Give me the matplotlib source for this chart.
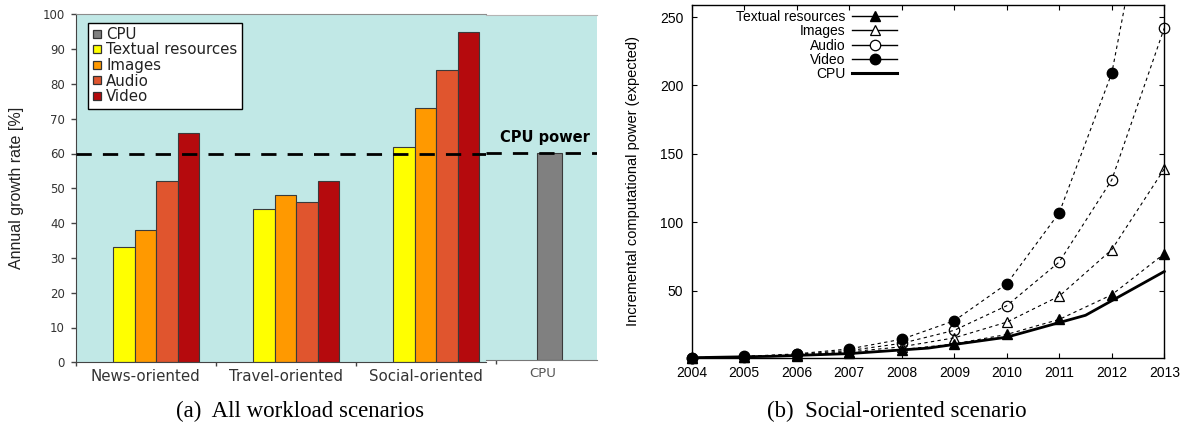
import matplotlib
matplotlib.use('Agg')
import matplotlib.pyplot as plt
import numpy as np
from matplotlib.lines import Line2D

# ---------------- data: (a) annual growth rate ----------------
scenarios = ['News-oriented', 'Travel-oriented', 'Social-oriented']
series_names = ['Textual resources', 'Images', 'Audio', 'Video']
textual_rate = [33, 44, 62]
images_rate = [38, 48, 73]
audio_rate = [52, 46, 84]
video_rate = [66, 52, 95]
cpu_rate = [60]
cpu_label = ['CPU']
cpu_line_value = 60
yticks_a = list(range(0, 101, 10))

# ---------------- data: (b) social-oriented scenario ----------------
years = [2004, 2005, 2006, 2007, 2008, 2009, 2010, 2011, 2012, 2013]
textual_pow = [1, 1.6, 2.6, 4.3, 6.9, 11.1, 18, 29, 47, 77]
images_pow = [1, 1.7, 3.0, 5.2, 9.0, 15.5, 27, 46, 80, 139]
audio_pow = [1, 1.8, 3.4, 6.2, 11.5, 21, 39, 71, 131, 242]
video_pow = [1, 1.9, 3.8, 7.4, 14.5, 28, 55, 107, 209, 408]
cpu_years = [2004, 2005.5, 2007, 2008.5, 2010, 2011.5, 2013]
cpu_pow = [1, 2, 4, 8, 16, 32, 64]
yticks_b = [50, 100, 150, 200, 250]

# ---------------- style ----------------
teal = '#c1e8e6'
bar_colors = ['#ffff00', '#ff9900', '#e0552e', '#b50a0d']
cpu_color = '#808080'
edge = '#3a3a3a'
W, H = 1189, 428

fig = plt.figure(figsize=(W / 100, H / 100), dpi=100)


def fax(l, t, r, b):
    return fig.add_axes([l / W, 1 - b / H, (r - l) / W, (b - t) / H])


axA = fax(75.5, 14.3, 485.6, 362.3)
axC = fax(485.6, 15.0, 596.7, 360.0)
axB = fax(691.7, 4.7, 1164.3, 357.7)

# ---------------- (a) main panel ----------------
group_w_px = 140.1
axA.set_facecolor(teal)
axA.set_xlim(0, (485.6 - 75.5) / group_w_px)
axA.set_ylim(0, 100)
gx = np.arange(len(scenarios))
bw = 0.1538
start = 0.268
rates = [textual_rate, images_rate, audio_rate, video_rate]
for i, (vals, col) in enumerate(zip(rates, bar_colors)):
    axA.bar(gx + start + i * bw, vals, bw, align='edge', color=col,
            edgecolor=edge, linewidth=0.8, zorder=2)
axA.axhline(cpu_line_value, color='k', lw=2, ls=(0, (5.5, 4)), zorder=3)

axA.set_xticks(list(gx))
axA.set_xticklabels([''] * len(gx))
axA.set_xticks(list(gx + 0.5), minor=True)
axA.set_xticklabels(scenarios, minor=True)
axA.tick_params(axis='x', which='major', length=3, width=1, color='#444', direction='out')
axA.tick_params(axis='x', which='minor', length=0, pad=5, labelsize=10.8, labelcolor='#333')
axA.set_yticks(yticks_a)
axA.tick_params(axis='y', length=3.6, width=1, pad=4, labelsize=8.5, labelcolor='#333', color='#444')
for lab in axA.get_xticklabels(minor=True) + axA.get_yticklabels():
    lab.set_fontfamily('DejaVu Sans')
axA.spines['right'].set_visible(False)
axA.spines['top'].set_color('#8c8c8c')
axA.spines['left'].set_color('#444')
axA.spines['bottom'].set_color('#444')
axA.set_ylabel('Annual growth rate [%]', fontsize=11.5, family='Liberation Sans', color='#222')
axA.yaxis.set_label_coords((24.5 - 75.5) / 410.1, 0.5)

handles = [Line2D([], [], ls='none', marker='s', ms=5.5, mfc=c, mec='#333', mew=0.9)
           for c in [cpu_color] + bar_colors]
leg = axA.legend(handles, cpu_label + series_names, loc='upper left',
                 bbox_to_anchor=((88.3 - 75.5) / 410.1, (362.3 - 22.7) / 348.0),
                 borderaxespad=0, frameon=True, fancybox=False,
                 framealpha=1, edgecolor='k', handlelength=0.6, handletextpad=0.32,
                 borderpad=0.28, labelspacing=0.04,
                 prop={'family': 'DejaVu Sans', 'size': 10.8})
leg.get_frame().set_linewidth(1.0)
for t in leg.get_texts():
    t.set_color('#222')

# ---------------- (a) CPU panel ----------------
cpu_group = 3
axC.set_facecolor(teal)
axC.set_xlim(2.927, 3.720)
axC.set_ylim(0, 100)
axC.bar([cpu_group + 0.383], cpu_rate, 0.174, color=cpu_color, edgecolor=edge,
        linewidth=0.8, zorder=2)
axC.axhline(cpu_line_value, color='k', lw=2, ls=(0, (5.5, 4)), zorder=3)
axC.set_xticks([cpu_group])
axC.set_xticklabels([''])
axC.set_xticks([cpu_group + 0.337], minor=True)
axC.set_xticklabels(cpu_label, minor=True)
axC.tick_params(axis='x', which='major', length=3, width=1, color='#444', direction='out')
axC.tick_params(axis='x', which='minor', length=0, pad=5, labelsize=9.5, labelcolor='#555')
axC.set_yticks([])
axC.spines['left'].set_visible(False)
axC.spines['right'].set_visible(False)
axC.spines['top'].set_color('#b4b4b4')
axC.spines['bottom'].set_color('#777')
axC.text(0.533, 64.5, 'CPU power', transform=axC.get_yaxis_transform(),
         ha='center', va='center', fontsize=10.5, fontweight='bold', family='DejaVu Sans')

# ---------------- (b) line chart ----------------
fam_b = 'Liberation Sans'
dash = (0, (3, 3))
axB.plot(years, textual_pow, color='k', lw=0.8, ls=dash, marker='^', ms=7,
         mfc='k', mec='k', clip_on=False, zorder=3)
axB.plot(years, images_pow, color='k', lw=0.8, ls=dash, marker='^', ms=7,
         mfc='none', mec='k', mew=0.9, clip_on=False, zorder=3)
axB.plot(years, audio_pow, color='k', lw=0.8, ls=dash, marker='o', ms=7.5,
         mfc='none', mec='k', mew=0.9, clip_on=False, zorder=3)
axB.plot(years, video_pow, color='k', lw=0.8, ls=dash, zorder=3)
ylim_b = (1, 259)
vy = np.array(years)
vv = np.array(video_pow)
vis = vv <= ylim_b[1]
axB.plot(vy[vis], vv[vis], ls='none', marker='o', ms=7.5, mfc='k', mec='k',
         clip_on=False, zorder=3)
axB.plot(cpu_years, cpu_pow, color='k', lw=2, zorder=4, clip_on=False)
axB.set_xlim(2004, 2013)
axB.set_ylim(*ylim_b)
axB.set_xticks(years)
axB.set_yticks(yticks_b)
axB.tick_params(direction='in', top=True, right=True, length=3.5, width=0.8,
                labelsize=10, pad=6)
for lab in axB.get_xticklabels() + axB.get_yticklabels():
    lab.set_fontfamily(fam_b)
for s in axB.spines.values():
    s.set_linewidth(1.0)
axB.set_ylabel('Incremental computational power (expected)', fontsize=10.5, family=fam_b)
axB.yaxis.set_label_coords((640.5 - 691.7) / 472.6, 0.5)

handles_b = [
    Line2D([], [], color='k', lw=1, marker='^', ms=7, mfc='k', mec='k'),
    Line2D([], [], color='k', lw=1, marker='^', ms=7, mfc='white', mec='k', mew=0.9),
    Line2D([], [], color='k', lw=1, marker='o', ms=7.5, mfc='white', mec='k', mew=0.9),
    Line2D([], [], color='k', lw=1, marker='o', ms=7.5, mfc='k', mec='k'),
    Line2D([], [], color='k', lw=2.2),
]
leg_b = axB.legend(handles_b, series_names + cpu_label, loc='upper right',
                   bbox_to_anchor=((897.3 - 691.7) / 472.6, (357.7 - 10.0) / 353.0),
                   borderaxespad=0, borderpad=0, frameon=False, markerfirst=False,
                   handlelength=3.24, handletextpad=0.49, labelspacing=0.02,
                   prop={'family': fam_b, 'size': 10})

# ---------------- captions ----------------
fig.text(300 / W, 1 - 411 / H, '(a)  All workload scenarios', ha='center', va='center',
         family='Liberation Serif', fontsize=16.5)
fig.text(897 / W, 1 - 411 / H, '(b)  Social-oriented scenario', ha='center', va='center',
         family='Liberation Serif', fontsize=16.5)

fig.savefig('out.png', dpi=100)
